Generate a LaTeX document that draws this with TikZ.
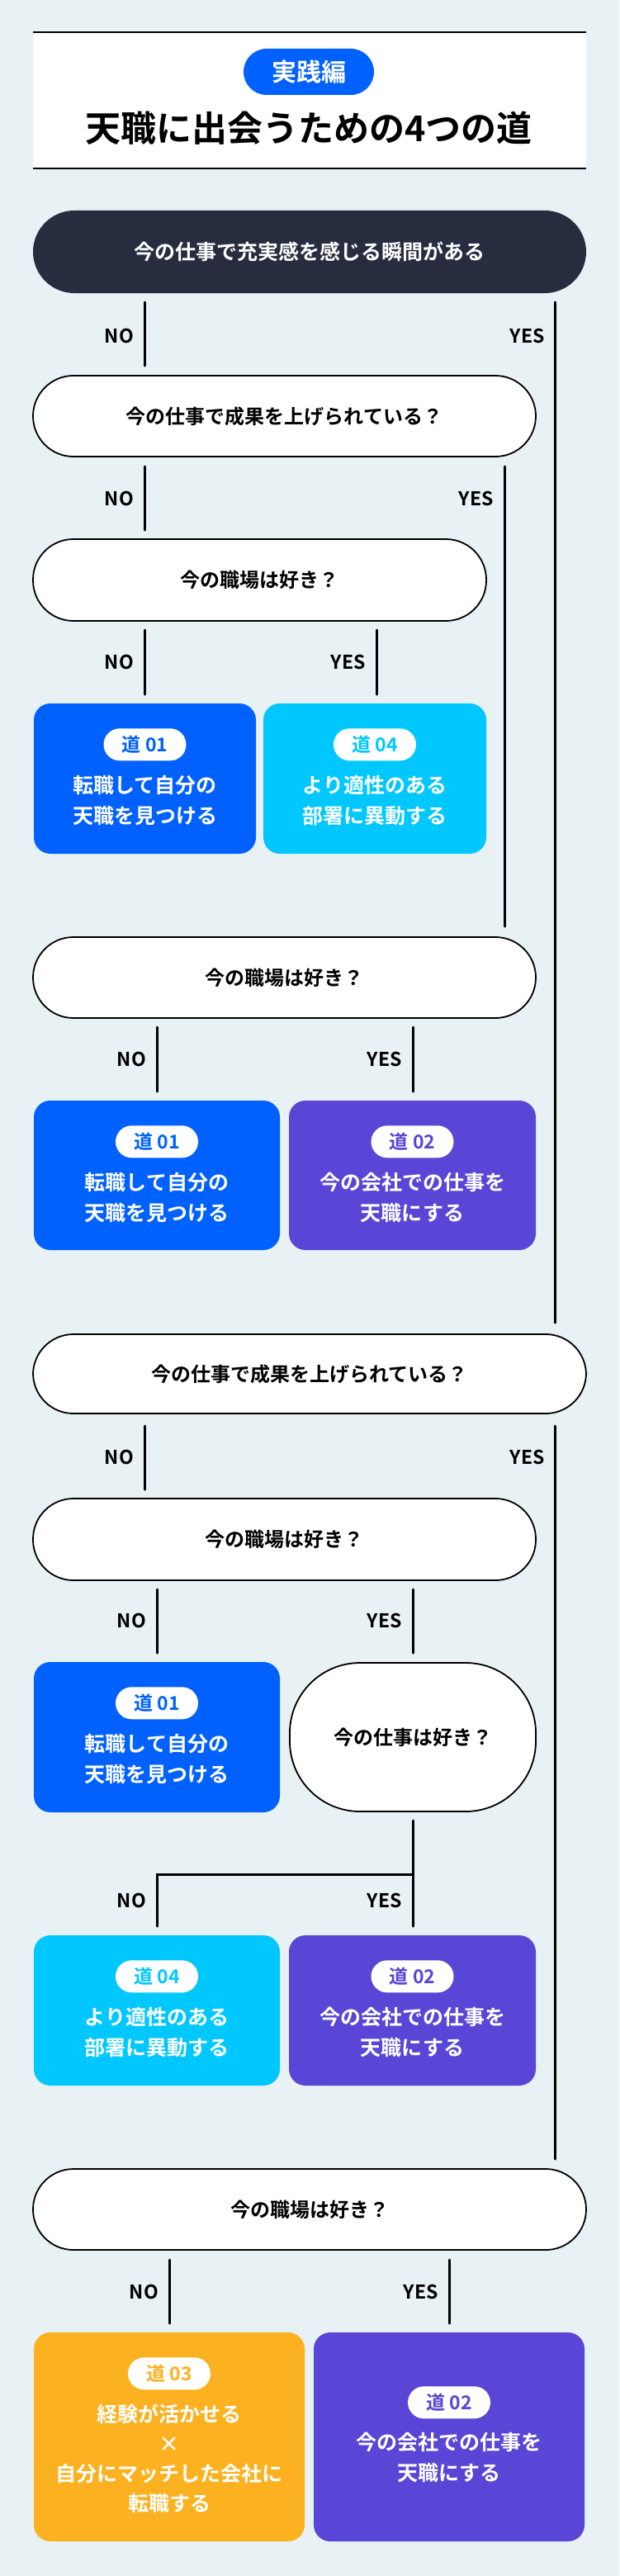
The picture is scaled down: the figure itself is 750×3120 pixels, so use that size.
\documentclass[tikz,border=0pt]{standalone}
\usepackage{fontspec}
\setmainfont{Noto Sans CJK JP}[BoldFont={Noto Sans CJK JP Bold}]
\definecolor{bg}{HTML}{E8F1F4}
\definecolor{dark}{HTML}{272C3F}
\definecolor{cblue}{HTML}{0061FE}
\definecolor{ccyan}{HTML}{00C8FE}
\definecolor{cpurple}{HTML}{5946D6}
\definecolor{cyellow}{HTML}{FCB120}
\begin{document}
\begin{tikzpicture}[x=1pt,y=-1pt,
  dec/.style={draw=black,line width=1.8pt,fill=white,rounded corners=49pt,inner sep=0pt,font=\fontsize{24}{30}\selectfont\bfseries},
  res/.style={fill=#1,rounded corners=20pt,inner sep=0pt,draw=none},
  badge/.style={fill=white,rounded corners=19.5pt,minimum width=100pt,minimum height=39pt,inner sep=0pt,text=#1,font=\fontsize{23}{28}\selectfont\bfseries},
  body/.style={text=white,align=center,inner sep=0pt,font=\fontsize{25}{37}\selectfont\bfseries},
  conn/.style={line width=3pt,line cap=round},
  lab/.style={anchor=east,inner sep=0pt,font=\fontsize{23}{28}\selectfont\bfseries}]
\useasboundingbox (0,0) rectangle (750,3120);
\fill[bg] (0,0) rectangle (750,3120);
% header
\fill[white] (40,39) rectangle (710,204);
\draw[line width=2pt] (40,39) -- (710,39);
\draw[line width=2pt] (40,204) -- (710,204);
\node[fill=cblue,rounded corners=28pt,minimum width=158pt,minimum height=56pt,inner sep=0pt,text=white,font=\fontsize{30}{34}\selectfont\bfseries] (tag) at (374,87) {実践編};
\node[font=\fontsize{43}{48}\selectfont\bfseries,inner sep=0pt] (title) at (374,155) {天職に出会うための4つの道};
% start
\node[fill=dark,rounded corners=50pt,minimum width=670pt,minimum height=100pt,inner sep=0pt,text=white,font=\fontsize{25}{30}\selectfont\bfseries] (s) at (375,305) {今の仕事で充実感を感じる瞬間がある};
% q1
\node[dec,minimum width=609pt,minimum height=98pt] (q1) at (344.5,504) {今の仕事で成果を上げられている？};
\node[dec,minimum width=549pt,minimum height=99pt] (q2) at (314.5,702.5) {今の職場は好き？};
% row 1 results
\node[res=cblue,minimum width=269pt,minimum height=182pt] (r1) at (175.5,943) {};
\node[badge=cblue] (r1b) at ([yshift=-50pt]r1.north) {道 01};
\node[body] (r1t) at ([yshift=-118pt]r1.north) {転職して自分の\\天職を見つける};
\node[res=ccyan,minimum width=270pt,minimum height=182pt] (r2) at (454,943) {};
\node[badge=ccyan] (r2b) at ([yshift=-50pt]r2.north) {道 04};
\node[body] (r2t) at ([yshift=-118pt]r2.north) {より適性のある\\部署に異動する};
% q3
\node[dec,minimum width=609pt,minimum height=98pt] (q3) at (344.5,1184) {今の職場は好き？};
\node[res=cblue,minimum width=298pt,minimum height=181pt] (r3) at (190,1423.5) {};
\node[badge=cblue] (r3b) at ([yshift=-50pt]r3.north) {道 01};
\node[body] (r3t) at ([yshift=-118pt]r3.north) {転職して自分の\\天職を見つける};
\node[res=cpurple,minimum width=299pt,minimum height=181pt] (r4) at (499.5,1423.5) {};
\node[badge=cpurple] (r4b) at ([yshift=-50pt]r4.north) {道 02};
\node[body] (r4t) at ([yshift=-118pt]r4.north) {今の会社での仕事を\\天職にする};
% q4
\node[dec,minimum width=670pt,minimum height=96pt] (q4) at (375,1664) {今の仕事で成果を上げられている？};
\node[dec,minimum width=609pt,minimum height=99pt] (q5) at (344.5,1864.5) {今の職場は好き？};
\node[res=cblue,minimum width=298pt,minimum height=182pt] (r5) at (190,2104) {};
\node[badge=cblue] (r5b) at ([yshift=-50pt]r5.north) {道 01};
\node[body] (r5t) at ([yshift=-118pt]r5.north) {転職して自分の\\天職を見つける};
\node[dec,rounded corners=85pt,minimum width=298pt,minimum height=180pt] (q6) at (500,2104) {今の仕事は好き？};
\node[res=ccyan,minimum width=298pt,minimum height=182pt] (r6) at (190,2435) {};
\node[badge=ccyan] (r6b) at ([yshift=-50pt]r6.north) {道 04};
\node[body] (r6t) at ([yshift=-118pt]r6.north) {より適性のある\\部署に異動する};
\node[res=cpurple,minimum width=299pt,minimum height=182pt] (r7) at (499.5,2435) {};
\node[badge=cpurple] (r7b) at ([yshift=-50pt]r7.north) {道 02};
\node[body] (r7t) at ([yshift=-118pt]r7.north) {今の会社での仕事を\\天職にする};
% q7
\node[dec,minimum width=670pt,minimum height=98pt] (q7) at (375,2676) {今の職場は好き？};
\node[res=cyellow,minimum width=328pt,minimum height=253pt] (r8) at (205,2951.5) {};
\node[badge=cyellow] (r8b) at ([yshift=-50pt]r8.north) {道 03};
\node[body,font=\fontsize{25}{36.3}\selectfont\bfseries] (r8t) at ([yshift=-153pt]r8.north) {経験が活かせる\\×\\自分にマッチした会社に\\転職する};
\node[res=cpurple,minimum width=328pt,minimum height=253pt] (r9) at (544,2951.5) {};
\node[badge=cpurple] (r9b) at ([yshift=-85pt]r9.north) {道 02};
\node[body] (r9t) at ([yshift=-152pt]r9.north) {今の会社での仕事を\\天職にする};
% connectors
\coordinate (a1) at (175,366); \coordinate (a2) at (175,443);
\draw[conn] (a1) -- (a2); \node[lab] at (162,407) {NO};
\coordinate (b1) at (672,366); \coordinate (b2) at (672,1602);
\draw[conn] (b1) -- (b2); \node[lab] at (660,407) {YES};
\coordinate (c1) at (175,565); \coordinate (c2) at (175,642);
\draw[conn] (c1) -- (c2); \node[lab] at (162,604) {NO};
\coordinate (d1) at (611,565); \coordinate (d2) at (611,1122);
\draw[conn] (d1) -- (d2); \node[lab] at (598,604) {YES};
\coordinate (e1) at (175,763); \coordinate (e2) at (175,841);
\draw[conn] (e1) -- (e2); \node[lab] at (162,802) {NO};
\coordinate (f1) at (456,763); \coordinate (f2) at (456,841);
\draw[conn] (f1) -- (f2); \node[lab] at (443,802) {YES};
\coordinate (g1) at (190,1244); \coordinate (g2) at (190,1322);
\draw[conn] (g1) -- (g2); \node[lab] at (177,1283) {NO};
\coordinate (h1) at (500,1244); \coordinate (h2) at (500,1322);
\draw[conn] (h1) -- (h2); \node[lab] at (487,1283) {YES};
\coordinate (i1) at (175,1727); \coordinate (i2) at (175,1804);
\draw[conn] (i1) -- (i2); \node[lab] at (162,1765) {NO};
\coordinate (j1) at (672,1727); \coordinate (j2) at (672,2615);
\draw[conn] (j1) -- (j2); \node[lab] at (660,1765) {YES};
\coordinate (k1) at (190,1925); \coordinate (k2) at (190,2002);
\draw[conn] (k1) -- (k2); \node[lab] at (177,1963) {NO};
\coordinate (l1) at (500,1925); \coordinate (l2) at (500,2002);
\draw[conn] (l1) -- (l2); \node[lab] at (487,1963) {YES};
\coordinate (m1) at (500,2205); \coordinate (m2) at (500,2333);
\coordinate (m3) at (500,2270); \coordinate (m4) at (190,2270); \coordinate (m5) at (190,2333);
\draw[conn] (m1) -- (m2);
\draw[line width=3pt,line cap=round,line join=miter] (m3) -- (m4) -- (m5);
\node[lab] at (177,2302) {NO}; \node[lab] at (487,2302) {YES};
\coordinate (n1) at (205,2737); \coordinate (n2) at (205,2814);
\draw[conn] (n1) -- (n2); \node[lab] at (192,2776) {NO};
\coordinate (o1) at (544,2737); \coordinate (o2) at (544,2814);
\draw[conn] (o1) -- (o2); \node[lab] at (531,2776) {YES};
\end{tikzpicture}
\end{document}
